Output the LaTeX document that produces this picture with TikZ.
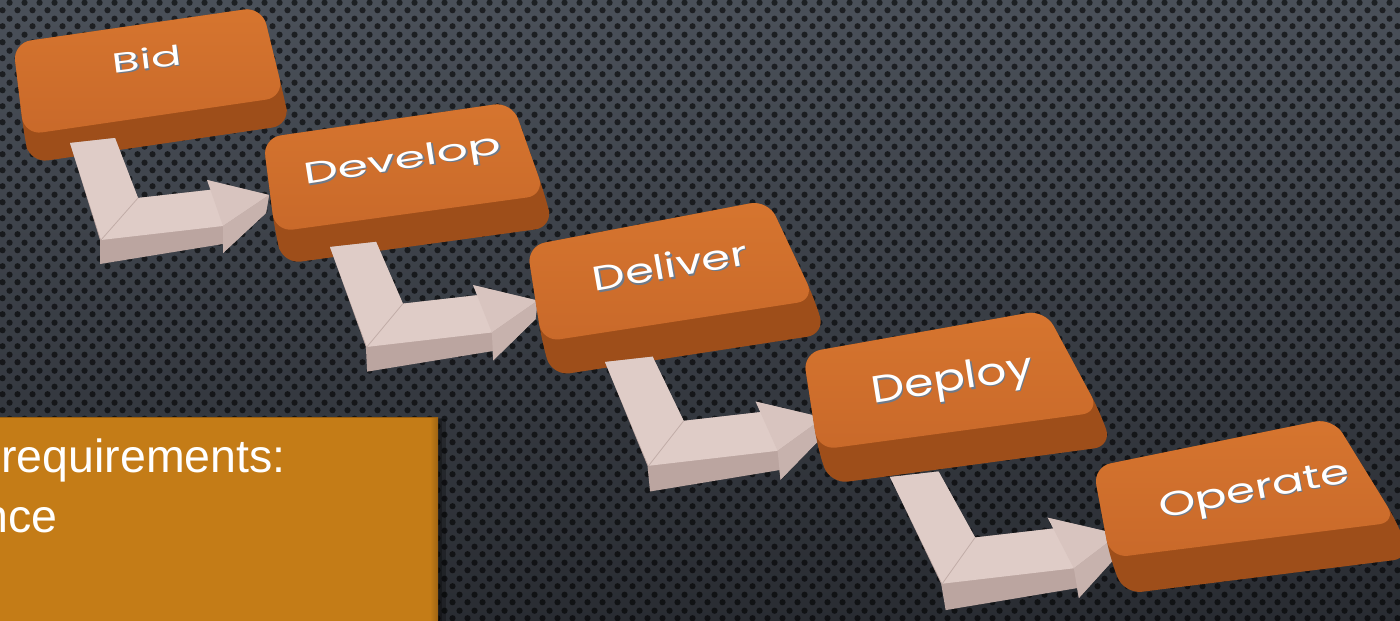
\documentclass[tikz,border=0pt]{standalone}
\usepackage{fontspec}
\usepackage{graphicx}
\newfontfamily\keyfont{Poppins}
\newfontfamily\notefont{Liberation Sans}
\usetikzlibrary{patterns,calc}

% perforated-metal background: staggered dots
\pgfdeclarepatternformonly{perfdots}{\pgfpointorigin}{\pgfqpoint{15pt}{16pt}}{\pgfqpoint{15pt}{16pt}}{%
  \pgfpathcircle{\pgfqpoint{3.75pt}{4pt}}{3.3pt}%
  \pgfpathcircle{\pgfqpoint{11.25pt}{12pt}}{3.3pt}%
  \pgfusepath{fill}}

\definecolor{bgtop}{HTML}{4A5059}
\definecolor{bgbot}{HTML}{292C32}
\definecolor{keytop}{HTML}{D6752F}
\definecolor{keytoplow}{HTML}{C9692A}
\definecolor{keyside}{HTML}{9E4E1A}
\definecolor{arrtop}{HTML}{DFCCC7}
\definecolor{arrfront}{HTML}{BBA5A0}
\definecolor{arrheadtop}{HTML}{D8C4BF}
\definecolor{arrheadfront}{HTML}{C7B2AD}
\definecolor{gold}{HTML}{C47C17}
\definecolor{goldedge}{HTML}{9A5E0E}
\definecolor{labelshadow}{HTML}{6E7A8A}

\tikzset{
  keytext/.style={anchor=base, inner sep=0pt, text=white},
  keyshadow/.style={anchor=base, inner sep=0pt, text=labelshadow},
  notetext/.style={anchor=base east, inner sep=0pt, text=white, font=\notefont\fontsize{46.5pt}{56pt}\selectfont},
}

% raised key: name, top-left, top-right, bottom-right, bottom-left, extrusion
\newcommand\keyblock[6]{%
  \coordinate (#1-tl) at (#2);
  \coordinate (#1-tr) at (#3);
  \coordinate (#1-br) at (#4);
  \coordinate (#1-bl) at (#5);
  \fill[keyside, rounded corners=18pt] (#1-tl) -- (#1-tr) -- (#1-br)
     -- ($(#1-br)+(#6)$) -- ($(#1-bl)+(#6)$) -- (#1-bl) -- cycle;
  \shade[top color=keytop, bottom color=keytoplow, rounded corners=18pt]
     (#1-tl) -- (#1-tr) -- (#1-br) -- (#1-bl) -- cycle;
}

% embossed key caption: name, baseline centre, angle, width, height, text
\newcommand\keylabel[6]{%
  \node[keyshadow, rotate=#3] (#1-shadow) at ([shift={(1.4,1.4)}]#2) {\resizebox{#4pt}{#5pt}{\keyfont #6}};
  \node[keytext, rotate=#3] (#1) at (#2) {\resizebox{#4pt}{#5pt}{\keyfont #6}};
}

% bent 3-D arrow: origin of the stem, scale, lean
\newcommand\bentarrow[3]{%
  \pgfmathsetmacro\arrs{#2}%
  \pgfmathsetmacro\arrc{-#3*#2}%
  \begin{scope}[shift={(#1)}, cm={\arrs,0,\arrc,\arrs,(0,0)}]
    \fill[arrfront] (0,0) -- (45,-5) -- (68,55) -- (148,46) -- (137,37) -- (199,52)
       -- (196,70) -- (153,110) -- (153,101) -- (30,121) -- (30,97) -- cycle;
    \fill[arrtop] (0,0) -- (45,-5) -- (68,55) -- (148,46) -- (153,83) -- (31,97) -- cycle;
    \fill[arrheadtop] (137,37) -- (199,52) -- (153,83) -- cycle;
    \fill[arrheadfront] (153,83) -- (199,52) -- (196,70) -- (153,110) -- cycle;
    \draw[arrfront!80!arrtop, line width=0.8pt] (68,55) -- (31,97);
  \end{scope}
}

\begin{document}
\begin{tikzpicture}[x=1pt,y=-1pt]
\useasboundingbox (0,0) rectangle (1400,621);
\begin{scope}
\clip (0,0) rectangle (1400,621);

% background plate
\shade[top color=bgtop, bottom color=bgbot] (0,0) rectangle (1400,621);
\fill[pattern=perfdots, pattern color=black, fill opacity=0.6] (0,0) rectangle (1400,621);

% steps, each followed by its bent arrow
\keyblock{bid}{13,43}{262,7}{284,97}{24,135}{6,28}
\keylabel{bidtext}{148,69}{7}{69}{21}{Bid}
\bentarrow{70,143}{1}{0}

\keyblock{develop}{263,138}{512,102}{545,195}{275,232}{8,32}
\keylabel{developtext}{404,169}{9}{200}{22}{Develop}
\bentarrow{330,247}{1.03}{0.05}

\keyblock{deliver}{527,246}{768,200}{815,300}{542,342}{10,34}
\keylabel{delivertext}{672,278}{10}{157}{26}{Deliver}
\bentarrow{605,362}{1.07}{0.1}

\keyblock{deploy}{803,353}{1045,310}{1100,412}{818,450}{12,34}
\keylabel{deploytext}{954,391}{9}{163}{28}{Deploy}
\bentarrow{890,477}{1.1}{0.17}

\keyblock{operate}{1093,467}{1333,418}{1397,522}{1110,558}{14,36}
\keylabel{operatetext}{1256,500}{11}{193}{24}{Operate}

% note panel
\fill[black, opacity=0.25] (-5,419) rectangle (446,630);
\fill[black, opacity=0.25] (-5,418) rectangle (442,630);
\fill[gold] (-5,417) rectangle (438,630);
\shade[left color=gold, right color=gold!80!black] (430,417) rectangle (438,630);
\draw[goldedge, line width=1.2pt] (-5,417.6) -- (438,417.6);
\node[notetext] (note1) at (286,472) {requirements:};
\node[notetext] (note2) at (58,532) {nce};
\end{scope}
\end{tikzpicture}
\end{document}
